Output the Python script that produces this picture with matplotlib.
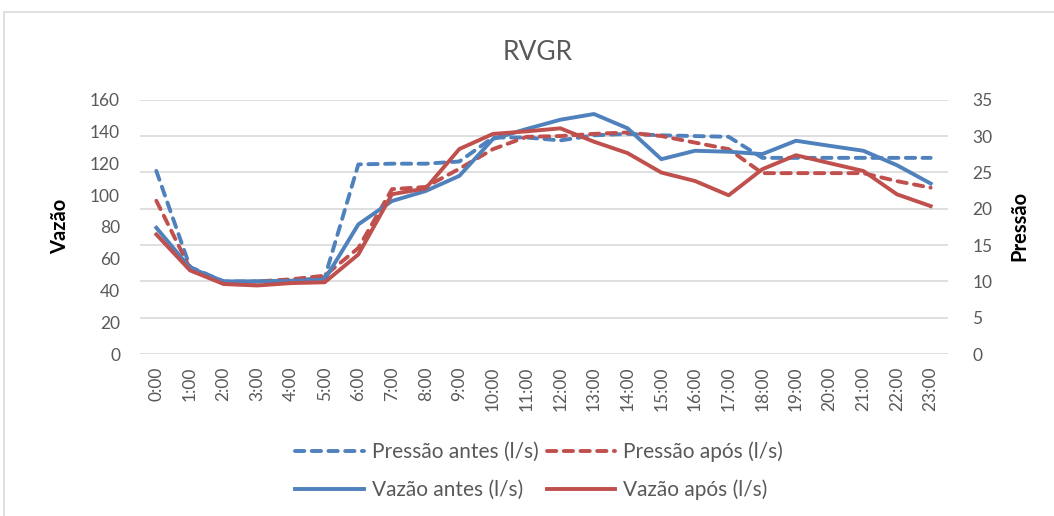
import matplotlib
matplotlib.use("Agg")
import matplotlib.pyplot as plt
from matplotlib.patches import Rectangle

plt.rcParams['font.family'] = ['Lato', 'DejaVu Sans']

horas = ["%d:00" % h for h in range(24)]

pressao_antes = [25.2, 12.0, 10.0, 10.0, 10.1, 10.5, 26.1, 26.2, 26.2, 26.5, 29.8, 29.8,
                 29.4, 30.1, 30.3, 30.1, 30.0, 29.9, 27.0, 27.0, 27.0, 27.0, 27.0, 27.0]
pressao_apos = [21.1, 11.8, 9.8, 10.0, 10.3, 10.8, 14.6, 22.7, 23.0, 25.5, 28.2, 29.9,
                30.0, 30.3, 30.5, 30.0, 29.1, 28.2, 24.9, 24.9, 24.9, 24.9, 23.8, 22.9]
vazao_antes = [79.5, 54.3, 45.8, 45.8, 46.0, 46.9, 81.6, 96.3, 102.6, 112.1, 135.3, 141.6,
               147.4, 151.0, 142.0, 122.6, 127.9, 127.3, 125.8, 134.2, 131.0, 127.9, 118.8, 107.3]
vazao_apos = [75.3, 52.7, 44.1, 43.2, 44.7, 45.2, 62.7, 100.6, 104.2, 129.0, 138.5, 140.1,
              142.0, 133.6, 126.4, 114.2, 108.9, 99.9, 116.3, 125.1, 120.1, 115.2, 100.5, 93.1]

azul = "#4F81BD"
vermelho = "#C0504D"
cinza = "#595959"

W, H = 1054, 516
fig = plt.figure(figsize=(W / 100, H / 100), dpi=100)
fig.patches.append(Rectangle((4 / W, -0.1), 1.2, 1 - 12 / H + 0.1, transform=fig.transFigure,
                             fill=False, edgecolor="#D9D9D9", linewidth=1.2))

left, right, top, bottom = 139.5, 947.5, 99.7, 354.2
ax2 = fig.add_axes([left / W, 1 - bottom / H, (right - left) / W, (bottom - top) / H])
ax = ax2.twinx()
ax.yaxis.tick_left()
ax2.yaxis.tick_right()
ax.set_zorder(2)
ax2.set_zorder(1)
ax.patch.set_visible(False)

x = list(range(24))
dash = (0, (2.4, 1.9))
ax2.plot(x, pressao_antes, color=azul, lw=2.8, linestyle=dash, dash_capstyle="round",
         label="Pressão antes (l/s)")
ax2.plot(x, pressao_apos, color=vermelho, lw=2.8, linestyle=dash, dash_capstyle="round",
         label="Pressão após (l/s)")
ax.plot(x, vazao_antes, color=azul, lw=2.8, label="Vazão antes (l/s)")
ax.plot(x, vazao_apos, color=vermelho, lw=2.8, label="Vazão após (l/s)")

ax.set_xlim(-0.5, 23.5)
ax.set_ylim(0, 160)
ax2.set_ylim(0, 35)
ax.set_yticks(range(0, 161, 20))
ax2.set_yticks(range(0, 36, 5))
ax2.set_xticks(x)
ax2.set_xticklabels(horas, rotation=90)
ax2.grid(axis="y", color="#D9D9D9", linewidth=1.2)
ax2.grid(axis="x", visible=False)

for a in (ax, ax2):
    for s in a.spines.values():
        s.set_visible(False)
ax.tick_params(axis="y", length=0, pad=14, labelsize=12.5, labelcolor=cinza)
ax2.tick_params(axis="y", length=0, pad=18, labelsize=12.5, labelcolor=cinza)
ax2.tick_params(axis="x", length=0, pad=9, labelsize=12.5, labelcolor=cinza)
ax.tick_params(axis="x", bottom=False, labelbottom=False)

fig.text(538 / W, 1 - 52 / H, "RVGR", ha="center", va="center", fontsize=19, color=cinza)
fig.text(60 / W, 1 - 226 / H, "Vazão", rotation=90, ha="center", va="center",
         fontsize=14.5, fontweight="bold", color="black")
fig.text(1019 / W, 1 - 226 / H, "Pressão", rotation=90, ha="center", va="center",
         fontsize=14.5, fontweight="bold", color="black")

h2, l2 = ax2.get_legend_handles_labels()
h1, l1 = ax.get_legend_handles_labels()
handles = [h2[0], h1[0], h2[1], h1[1]]
labels = [l2[0], l1[0], l2[1], l1[1]]
fig.legend(handles, labels, ncol=2, loc="center", bbox_to_anchor=(539 / W, 1 - 471 / H),
           frameon=False, fontsize=15, labelcolor=cinza, handlelength=3.3,
           handletextpad=0.35, columnspacing=0.4, labelspacing=0.85)

fig.savefig("out.png", dpi=100)
